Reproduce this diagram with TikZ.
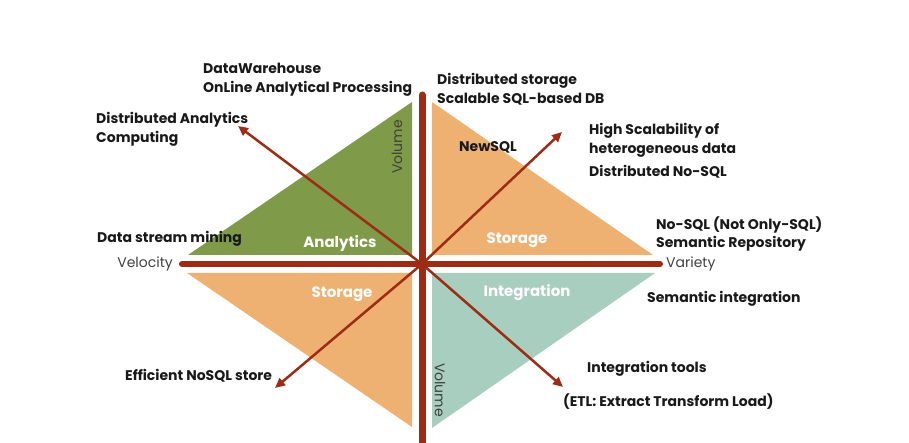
\documentclass[tikz,border=0pt]{standalone}
\usepackage{fontspec}
\setmainfont{Poppins}
\usetikzlibrary{arrows.meta}
\definecolor{axisred}{HTML}{9E2C15}
\definecolor{analyticsgreen}{HTML}{7F9A48}
\definecolor{storageorange}{HTML}{EFB172}
\definecolor{integrationteal}{HTML}{A7CEBF}
\tikzstyle{note}=[anchor=west,align=left,inner sep=0pt,text=black!90,font=\bfseries\fontsize{14}{18.5}\selectfont]
\tikzstyle{area}=[inner sep=0pt,text=white,font=\bfseries\fontsize{15}{17}\selectfont]
\tikzstyle{dim}=[inner sep=0pt,text=black!75,font=\fontsize{14}{16}\selectfont]
\tikzstyle{axis}=[draw=axisred,line cap=round]
\tikzstyle{trend}=[draw=axisred,line width=2.5pt,-{Triangle[length=10pt,width=9pt]}]

\begin{document}
\begin{tikzpicture}[x=1pt,y=1pt]
    \useasboundingbox (0,0) rectangle (909,443);
    % quadrants
    \fill[analyticsgreen] (188,188) -- (412,341) -- (412,188) -- cycle;
    \fill[storageorange] (432,341) -- (432,188) -- (653,188) -- cycle;
    \fill[storageorange] (187,170) -- (412,170) -- (412,16) -- cycle;
    \fill[integrationteal] (432,170) -- (655,170) -- (432,15) -- cycle;
    % axes
    \coordinate (c) at (422,179);
    \coordinate (top) at (422,348);
    \coordinate (bottom) at (422,-5);
    \coordinate (left) at (182,179);
    \coordinate (right) at (660,179);
    \draw[axis,line width=7pt] (top) -- (bottom);
    \draw[axis,line width=6pt] (left) -- (right);
    % trends
    \coordinate (nw) at (238,317);
    \coordinate (ne) at (562,311);
    \coordinate (sw) at (275,55);
    \coordinate (se) at (563,56);
    \foreach \d in {nw,ne,sw,se}
        \draw[trend] (c) -- (\d);
    % axis names
    \node[dim,anchor=east] (velocity) at (173,179) {Velocity};
    \node[dim,anchor=west] (variety) at (666,179) {Variety};
    \node[dim,rotate=90] (volumeup) at (397,296) {Volume};
    \node[dim,rotate=-90] (volumedown) at (440,53) {Volume};
    % quadrant names
    \node[area] (analytics) at (340,200) {Analytics};
    \node[area] (storageup) at (517,203) {Storage};
    \node[area] (storagedown) at (342,149) {Storage};
    \node[area] (integration) at (527,150) {Integration};
    \node[note,anchor=center] (newsql) at (488,296) {NewSQL};
    % notes
    \node[note] (dw) at (203,363) {DataWarehouse\\OnLine Analytical Processing};
    \node[note] (dstore) at (437,354) {Distributed storage\\Scalable SQL-based DB};
    \node[note] (danalytics) at (96,313.5) {Distributed Analytics\\Computing};
    \node[note] (scal) at (589,302.5) {High Scalability of\\heterogeneous data};
    \node[note] (dnosql) at (589,271.5) {Distributed No-SQL};
    \node[note] (nosql) at (656,209) {No-SQL (Not Only-SQL)\\Semantic Repository};
    \node[note] (stream) at (97,204.5) {Data stream mining};
    \node[note] (semint) at (647,144.5) {Semantic integration};
    \node[note] (tools) at (587,74) {Integration tools};
    \node[note] (etl) at (563,41) {(ETL: Extract Transform Load)};
    \node[note] (nosqlstore) at (125,67) {Efficient NoSQL store};
\end{tikzpicture}
\end{document}
